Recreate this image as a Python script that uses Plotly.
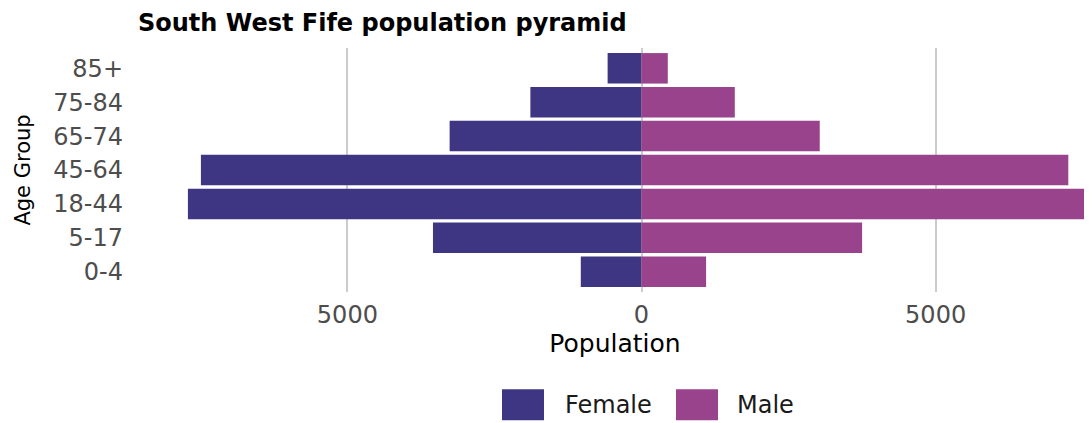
import plotly.graph_objects as go

# ---- data ----
age_groups = ["0-4", "5-17", "18-44", "45-64", "65-74", "75-84", "85+"]
female = [1032, 3545, 7711, 7490, 3262, 1889, 576]
male = [1098, 3750, 7950, 7256, 3030, 1586, 447]
tick_vals = [-5000, 0, 5000]
tick_text = ["5000", "0", "5000"]

FEMALE_COLOR = "#3E3682"
MALE_COLOR = "#98438C"
FONT = "DejaVu Sans"

# the page body has an 8px default margin; work in reference pixels and shift
OFF = 8
W, H = 1092 - OFF, 423 - OFF
ML, MR, MT, MB = 138 - OFF, 0, 47.6 - OFF, 130.6
PW, PH = W - ML - MR, H - MT - MB
ZERO_PX = 641.5 - OFF
UNITS_PER_PX = 17.0

def px_x(px):
    return (px - OFF - ML) / PW

def px_y(py):
    return (H - MB - (py - OFF)) / PH

fig = go.Figure()
fig.add_trace(go.Bar(
    y=age_groups, x=[-v for v in female], orientation="h", name="Female",
    marker=dict(color=FEMALE_COLOR, line=dict(width=0)),
    customdata=female, hovertemplate="%{y}: %{customdata}<extra>Female</extra>",
))
fig.add_trace(go.Bar(
    y=age_groups, x=male, orientation="h", name="Male",
    marker=dict(color=MALE_COLOR, line=dict(width=0)),
    hovertemplate="%{y}: %{x}<extra>Male</extra>",
))

# manual legend (large keys like the reference)
legend_items = [("Female", FEMALE_COLOR, 502, 563), ("Male", MALE_COLOR, 676, 735)]
shapes = []
annotations = []
for label, color, box_left, text_left in legend_items:
    shapes.append(dict(type="rect", xref="paper", yref="paper",
                       x0=px_x(box_left), x1=px_x(box_left + 42),
                       y0=px_y(390), y1=px_y(421),
                       fillcolor=color, line=dict(width=0)))
    annotations.append(dict(text=label, xref="paper", yref="paper",
                            x=px_x(text_left), y=px_y(406),
                            xanchor="left", yanchor="middle", showarrow=False,
                            font=dict(family=FONT, size=24, color="#1a1a1a")))

fig.update_layout(
    width=W, height=H,
    margin=dict(l=ML, r=MR, t=MT, b=MB, pad=0),
    paper_bgcolor="white", plot_bgcolor="white",
    barmode="relative", bargap=0.1,
    showlegend=False,
    title=dict(text="<b>South West Fife population pyramid</b>",
               x=(138 - OFF) / W, xref="container", xanchor="left",
               y=1 - (22.5 - OFF) / H, yref="container", yanchor="middle",
               font=dict(family=FONT, size=24, color="black")),
    xaxis=dict(
        range=[(ML - ZERO_PX) * UNITS_PER_PX, (W - ZERO_PX) * UNITS_PER_PX],
        tickvals=tick_vals, ticktext=tick_text,
        showgrid=True, gridcolor="#cccccc", gridwidth=1.5,
        zeroline=False, showline=False, ticks="",
        tickfont=dict(family=FONT, size=24, color="#4d4d4d"),
        ticklabelstandoff=6,
        title=dict(text="Population", standoff=2,
                   font=dict(family=FONT, size=25, color="black")),
        fixedrange=True,
    ),
    yaxis=dict(
        categoryorder="array", categoryarray=age_groups,
        range=[-0.6, 6.6],
        showgrid=False, zeroline=False, showline=False, ticks="",
        tickfont=dict(family=FONT, size=24, color="#4d4d4d"),
        ticklabelstandoff=14,
        title=dict(text="Age Group", standoff=16,
                   font=dict(family=FONT, size=21, color="black")),
        fixedrange=True,
    ),
    shapes=shapes, annotations=annotations,
)

fig.write_html("out.html")
